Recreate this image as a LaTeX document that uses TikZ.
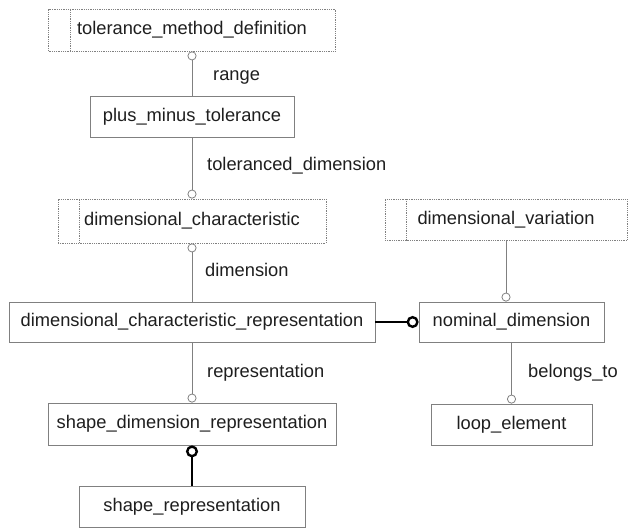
\documentclass[tikz,border=0pt]{standalone}
\usepackage{fontspec}
\setmainfont{Liberation Sans}
\usetikzlibrary{arrows.meta, positioning}
\definecolor{boxgrey}{RGB}{128,128,128}
\definecolor{textgrey}{RGB}{30,30,30}

\tikzset{
  ring/.tip={Circle[open, length=9pt, width=9pt]},
  bigring/.tip={Circle[open, length=12pt, width=12pt]},
  entity/.style={draw=boxgrey, line width=0.8pt, minimum height=42pt, inner sep=0pt, text=textgrey},
  abstractentity/.style={entity, densely dotted},
  rel/.style={draw=boxgrey, line width=0.8pt},
  thickrel/.style={draw=black, line width=2.4pt},
  rolename/.style={anchor=west, inner sep=0pt, text=textgrey}
}

\begin{document}
\begin{tikzpicture}[x=1pt, y=-1pt, font=\fontsize{18.3}{21}\selectfont]
    \useasboundingbox (0,0) rectangle (629,529);
    % Entities, left column
    \node[abstractentity, minimum width=287pt] (tmd) at (192,30) {tolerance\_method\_definition};
    \node[entity, minimum width=204pt, minimum height=41pt] (pmt) at (192,117) {plus\_minus\_tolerance};
    \node[abstractentity, minimum width=268pt, minimum height=44pt] (dc) at (192,221) {dimensional\_characteristic};
    \node[entity, minimum width=366pt, minimum height=40pt] (dcr) at (192,322) {dimensional\_characteristic\_representation};
    \node[entity, minimum width=288pt] (sdr) at (192,424) {shape\_dimension\_representation};
    \node[entity, minimum width=226pt, minimum height=41pt] (sr) at (192,506.5) {shape\_representation};
    % Entities, right column
    \node[abstractentity, minimum width=242pt, minimum height=41pt] (dv) at (506,220) {dimensional\_variation};
    \node[entity, minimum width=185pt, minimum height=40pt] (nd) at (511.5,322) {nominal\_dimension};
    \node[entity, minimum width=161pt, minimum height=41pt] (le) at (511.5,424.5) {loop\_element};
    % Bars of the abstract entities
    \foreach \n in {tmd, dc, dv}{
      \draw[boxgrey, line width=0.8pt, densely dotted]
        ([xshift=22pt]\n.north west) -- ([xshift=22pt]\n.south west);
    }
    % Relationships
    \draw[rel, ring-] (tmd) -- (pmt);
    \draw[rel, -ring] (pmt) -- (dc);
    \draw[rel, ring-] (dc) -- (dcr);
    \draw[rel, -ring] (dcr) -- (sdr);
    \draw[thickrel, bigring-] (sdr) -- (sr);
    \draw[thickrel, -bigring] (dcr) -- (nd);
    \draw[rel, -ring] (dv.south) -- (dv.south |- nd.north);
    \draw[rel, -ring] (nd) -- (le);
    % Role names
    \node[rolename] (range) at (213,77) {range};
    \node[rolename] (toldim) at (207,166) {toleranced\_dimension};
    \node[rolename] (dim) at (205,270) {dimension};
    \node[rolename] (repr) at (207,373) {representation};
    \node[rolename] (belongs) at (528,373) {belongs\_to};
\end{tikzpicture}
\end{document}
